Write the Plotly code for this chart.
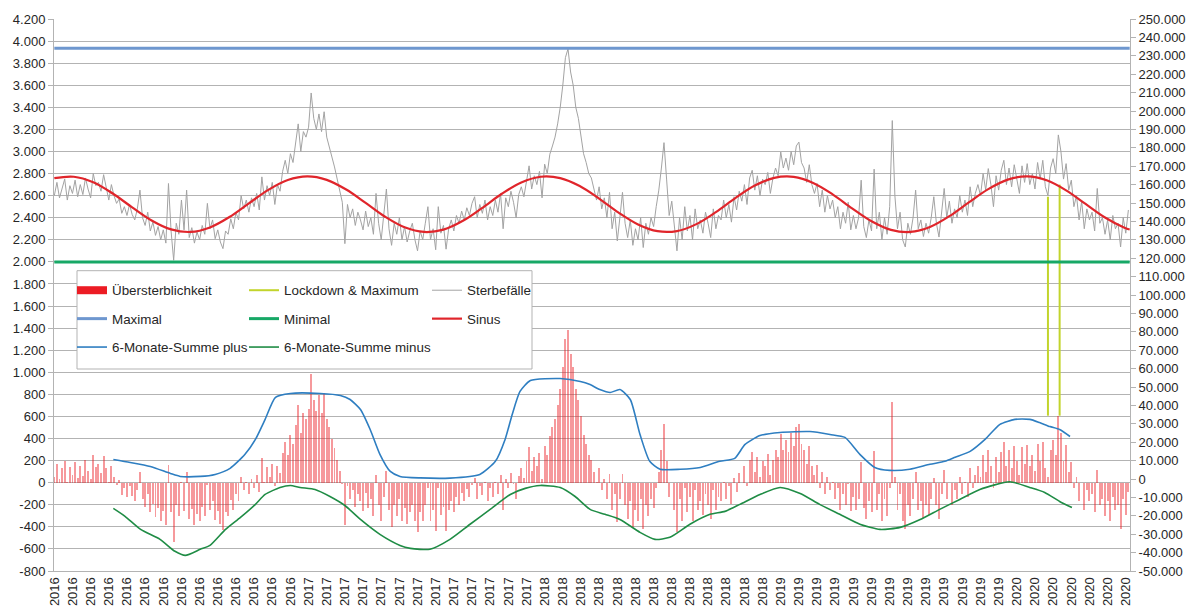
import pandas as pd
import plotly.graph_objects as go

START = pd.Timestamp("2016-01-01")

# ---- data ----
# daily deaths, one value every 4 days starting 2016-01-01
sterbefaelle_schritt_tage = 4
sterbefaelle = [
    2600, 2720, 2580, 2680, 2750, 2560, 2690, 2620, 2740, 2590,
    2700, 2610, 2760, 2660, 2580, 2800, 2690, 2720, 2640, 2790,
    2680, 2560, 2700, 2600, 2530, 2570, 2440, 2500, 2420, 2520,
    2430, 2380, 2480, 2650, 2400, 2330, 2450, 2280, 2360, 2240,
    2320, 2200, 2290, 2170, 2710, 2280, 2015, 2350, 2250, 2560,
    2290, 2650, 2220, 2310, 2170, 2270, 2200, 2330, 2250, 2530,
    2300, 2380, 2210, 2290, 2180, 2120, 2280, 2250, 2390, 2300,
    2450, 2380, 2600, 2480, 2560, 2450, 2580, 2500, 2620, 2470,
    2770, 2560, 2690, 2600, 2720, 2520, 2700, 2640, 2820, 2920,
    2800, 2980, 2900, 3070, 3250, 3000, 3180, 3130, 3220, 3530,
    3300, 3200, 3340, 3180, 3360, 3130, 3050, 2950, 2860, 2760,
    2660, 2540, 2165, 2520, 2400, 2480, 2330, 2450, 2380, 2290,
    2460, 2320, 2400, 2250, 2620, 2350, 2200, 2420, 2660, 2300,
    2150, 2350, 2250, 2400, 2200, 2320, 2180, 2280, 2350, 2200,
    2100, 2280, 2200, 2350, 2500, 2200, 2300, 2110, 2500, 2260,
    2330, 2115, 2300, 2380, 2280, 2420, 2350, 2460, 2380, 2490,
    2420, 2530, 2590, 2400, 2520, 2440, 2560, 2380, 2500, 2420,
    2560, 2450, 2620, 2300, 2580, 2500, 2640, 2540, 2400, 2610,
    2680, 2590, 2750, 2870, 2660, 2780, 2700, 2820, 2580, 2885,
    2800, 2975, 3050, 3130, 3250, 3400, 3600, 3850, 3930, 3720,
    3600, 3400, 3300, 3150, 2980, 2900, 2800, 2760, 2650, 2560,
    2680, 2480, 2580, 2400, 2630, 2300, 2450, 2190, 2400, 2630,
    2350, 2220, 2380, 2150, 2300, 2200, 2400, 2130, 2350, 2250,
    2400, 2320, 2500, 2650, 2850, 3080, 2750, 2420, 2550, 2300,
    2100, 2400, 2200, 2500, 2280, 2420, 2200, 2480, 2300, 2380,
    2260, 2450, 2350, 2220, 2480, 2300, 2420, 2380, 2560, 2400,
    2520, 2360, 2590, 2470, 2640, 2550, 2700, 2520, 2760, 2830,
    2650, 2780, 2600, 2750, 2700, 2810, 2620, 2760, 2850, 2780,
    2995, 2850, 2940, 2830, 3000, 2880, 3050, 3085, 2900, 2850,
    2720, 2880, 2700, 2620, 2710, 2500, 2650, 2450, 2600, 2480,
    2560, 2400, 2500, 2300, 2450, 2350, 2540, 2290, 2420, 2300,
    2400, 2740, 2320, 2220, 2380, 2280, 2840, 2300, 2450, 2200,
    2400, 2250, 2500, 3280, 2600, 2300, 2450, 2200, 2135, 2350,
    2250, 2400, 2650, 2300, 2380, 2230, 2350, 2260, 2400, 2590,
    2350, 2225, 2450, 2665, 2400, 2550, 2350, 2480, 2400, 2600,
    2450, 2560, 2420, 2680, 2500, 2620, 2700, 2600, 2800, 2650,
    2845, 2700, 2500, 2780, 2650, 2830, 2920, 2700, 2850, 2680,
    2880, 2750, 2620, 2870, 2720, 2890, 2700, 2800, 2660, 2900,
    2750, 2920, 2680, 2600, 2850, 2935, 2800, 3150, 3000, 2750,
    2890, 2650, 2740, 2500, 2600, 2380, 2550, 2300, 2480, 2380,
    2450, 2280, 2665, 2350, 2400, 2250, 2380, 2200, 2420, 2300,
    2350, 2135, 2400, 2260, 2470,
]
mittelwert = 2550          # baseline of the "Übersterblichkeit" bars
maximal = 3935
minimal = 2000
letzter_tag = 1658

sinus_tage = list(range(0, 1651, 30)) + [1658]
sinus_werte = [
    2758, 2771, 2721, 2619, 2494, 2375, 2294, 2271, 2312, 2406,
    2530, 2652, 2741, 2774, 2743, 2655, 2534, 2409, 2313, 2271,
    2292, 2372, 2490, 2617, 2719, 2771, 2759, 2687, 2573, 2446,
    2339, 2278, 2279, 2342, 2451, 2578, 2691, 2761, 2770, 2715,
    2612, 2485, 2368, 2290, 2271, 2316, 2414, 2539, 2659, 2745,
    2774, 2739, 2648, 2525, 2402, 2309, 2293,
]

summe_plus_tage = [91, 117, 148, 179, 194, 225, 248, 271, 294, 310, 325, 341, 364, 410,
                   441, 456, 472, 487, 502, 518, 533, 564, 610, 656, 680, 695, 706, 718,
                   734, 780, 811, 826, 841, 857, 872, 888, 903, 918, 934, 965, 996, 1026,
                   1049, 1065, 1088, 1119, 1165, 1196, 1219, 1242, 1265, 1288, 1319, 1350,
                   1373, 1389, 1412, 1435, 1458, 1481, 1504, 1519, 1535, 1550, 1566]
summe_plus = [10600, 9000, 6800, 3000, 1400, 1400, 2500, 5800, 13400, 21500, 32400, 44400,
              46500, 46500, 45400, 43200, 37800, 26900, 13400, 4100, 1400, 600, 500, 2500,
              9600, 21500, 35100, 47600, 53500, 54600, 53000, 51300, 48600, 47000, 48600,
              43200, 24200, 9600, 5300, 5300, 6300, 9600, 11200, 18800, 23600, 25300, 25800,
              24200, 22600, 13400, 6300, 4700, 5300, 8000, 9600, 11800, 15000, 21500, 29700,
              32400, 32400, 30700, 28500, 26900, 23100]

summe_minus_tage = [91, 109, 133, 163, 186, 202, 225, 240, 264, 287, 310, 325, 348, 364,
                    379, 402, 425, 448, 472, 502, 533, 549, 579, 610, 641, 672, 703, 726,
                    749, 780, 803, 826, 849, 872, 903, 926, 949, 980, 1011, 1034, 1057,
                    1088, 1119, 1150, 1180, 1211, 1242, 1273, 1304, 1335, 1365, 1396, 1427,
                    1473, 1504, 1527, 1550, 1569]
summe_minus = [-16000, -20300, -27400, -32800, -39300, -41500, -38200, -36100, -27400,
               -20900, -13800, -8400, -4600, -3500, -4600, -5700, -9500, -14400, -22000,
               -30100, -36100, -37700, -38200, -32800, -24600, -16500, -8400, -5100, -3500,
               -4600, -9500, -16500, -19200, -22000, -29000, -32800, -31700, -24600, -19200,
               -17600, -13800, -8400, -4600, -7900, -13800, -19200, -24600, -27400, -26300,
               -22000, -16500, -11100, -5700, -1500, -4600, -7300, -12200, -15500]

lockdown_tage = [1532, 1550]
lockdown_oben = [2590, 2700]
lockdown_unten = 607

links_ticks = list(range(-800, 4201, 200))
rechts_ticks = list(range(-50000, 250001, 10000))
x_label_abstand_tage = 28
x_label_anzahl = 60


def tag(d):
    return START + pd.Timedelta(days=d)


def de(v):
    return f"{v:,}".replace(",", ".")


FONT = "Liberation Sans, Arial, sans-serif"
TXT = "#262626"
GRID = "#b3b3b3"

x_daten = [tag(i * sterbefaelle_schritt_tage) for i in range(len(sterbefaelle))]
uebersterblichkeit = [v - mittelwert for v in sterbefaelle]

fig = go.Figure()

# bars
fig.add_trace(go.Bar(
    x=x_daten, y=uebersterblichkeit, name="Übersterblichkeit",
    marker=dict(color="rgba(236,28,36,0.45)", line=dict(width=0)),
    width=3.0 * 86400000, showlegend=False, legendgroup="ueber"))

# legend stand-in for the bar series
fig.add_trace(go.Scatter(x=[None], y=[None], mode="lines", name="Übersterblichkeit",
                         line=dict(color="#ec1c24", width=8), legend="legend",
                         legendgroup="ueber"))

fig.add_trace(go.Scatter(
    x=[tag(lockdown_tage[0]), tag(lockdown_tage[0]), None, tag(lockdown_tage[1]), tag(lockdown_tage[1])],
    y=[lockdown_oben[0], lockdown_unten, None, lockdown_oben[1], lockdown_unten],
    mode="lines", name="Lockdown &amp; Maximum", line=dict(color="#c2d42c", width=2),
    legend="legend2", legendgroup="lock", connectgaps=False))

fig.add_trace(go.Scatter(x=x_daten, y=sterbefaelle, mode="lines", name="Sterbefälle",
                         line=dict(color="#a3a3a3", width=1), legend="legend3",
                         legendgroup="sterbe"))

fig.add_trace(go.Scatter(x=[tag(0), tag(letzter_tag)], y=[maximal, maximal], mode="lines",
                         name="Maximal", line=dict(color="#6e97cf", width=3),
                         legend="legend", legendgroup="max"))

fig.add_trace(go.Scatter(x=[tag(0), tag(letzter_tag)], y=[minimal, minimal], mode="lines",
                         name="Minimal", line=dict(color="#17a866", width=3),
                         legend="legend2", legendgroup="min"))

fig.add_trace(go.Scatter(x=[tag(d) for d in sinus_tage], y=sinus_werte, mode="lines",
                         name="Sinus", line=dict(color="#e0252b", width=2.2, shape="spline"),
                         legend="legend3", legendgroup="sinus"))

fig.add_trace(go.Scatter(x=[tag(d) for d in summe_plus_tage], y=summe_plus, mode="lines",
                         name="6-Monate-Summe plus", yaxis="y2",
                         line=dict(color="#2e7ec1", width=1.6, shape="spline", smoothing=0.6),
                         legend="legend", legendgroup="plus"))

fig.add_trace(go.Scatter(x=[tag(d) for d in summe_minus_tage], y=summe_minus, mode="lines",
                         name="6-Monate-Summe minus", yaxis="y2",
                         line=dict(color="#1f8c45", width=1.6, shape="spline", smoothing=0.6),
                         legend="legend2", legendgroup="minus"))

tickdates = [tag(i * x_label_abstand_tage) for i in range(x_label_anzahl)]
ticklabels = [str(d.year) for d in tickdates]

leg_common = dict(
    xref="paper", yref="paper", xanchor="left", yanchor="top",
    bgcolor="rgba(0,0,0,0)", borderwidth=0, tracegroupgap=8,
    font=dict(family=FONT, size=13.4, color=TXT), itemwidth=30,
    orientation="v")

LEG_TOP = 275

fig.update_layout(
    width=1192, height=611,
    margin=dict(l=54, r=62, t=19, b=40, autoexpand=False),
    paper_bgcolor="white", plot_bgcolor="white",
    font=dict(family=FONT, size=13, color=TXT),
    barmode="overlay", bargap=0,
    separators=",.",
    xaxis=dict(type="date", range=[tag(-0.5), tag(letzter_tag + 0.5)],
               tickvals=tickdates, ticktext=ticklabels, tickangle=-90,
               showgrid=False, zeroline=False, showline=True, linecolor=GRID,
               ticks="", tickfont=dict(size=13, color=TXT), automargin=False),
    yaxis=dict(range=[-800, 4200], tickvals=links_ticks, ticktext=[de(v) for v in links_ticks],
               showgrid=True, gridcolor=GRID, gridwidth=1, zeroline=False,
               showline=True, linecolor=GRID, ticks="outside", ticklen=5, tickcolor=GRID,
               tickfont=dict(size=13, color=TXT), automargin=False),
    yaxis2=dict(overlaying="y", side="right", range=[-50000, 250000],
                tickvals=rechts_ticks, ticktext=[de(v) for v in rechts_ticks],
                showgrid=False, zeroline=False, showline=True, linecolor=GRID,
                ticks="outside", ticklen=5, tickcolor=GRID,
                tickfont=dict(size=13, color=TXT), automargin=False),
    legend=dict(x=(72 - 54) / 1076, y=1 - (LEG_TOP - 19) / 552, **leg_common),
    legend2=dict(x=(244 - 54) / 1076, y=1 - (LEG_TOP - 19) / 552, **leg_common),
    legend3=dict(x=(427 - 54) / 1076, y=1 - (LEG_TOP - 19) / 552, **leg_common),
    shapes=[dict(type="rect", xref="paper", yref="paper", layer="above",
                 x0=(77 - 54) / 1076, x1=(532 - 54) / 1076,
                 y0=1 - (369 - 19) / 552, y1=1 - (270.7 - 19) / 552,
                 fillcolor="white", line=dict(color=GRID, width=1))],
    showlegend=True,
)

fig.write_html("out.html", config={"displayModeBar": False},
               post_script="document.body.style.margin='0';document.body.style.padding='0';")
